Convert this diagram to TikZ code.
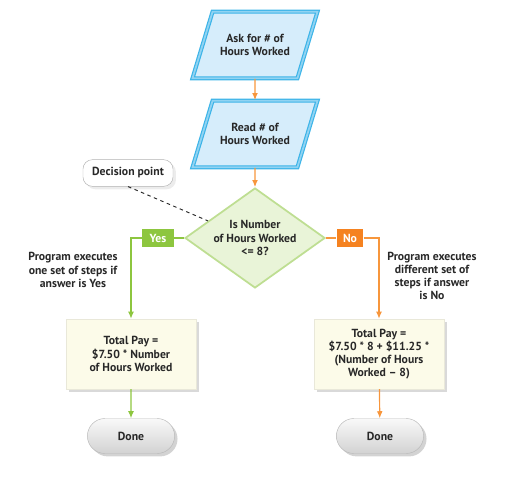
\documentclass[tikz,border=0pt]{standalone}
\usepackage{fontspec}
\setmainfont{PT Sans}
\usetikzlibrary{shapes.geometric,shapes.misc,shadows,arrows.meta}
\definecolor{ioblue}{RGB}{60,180,232}
\definecolor{iofill}{RGB}{214,237,251}
\definecolor{yesgreen}{RGB}{141,198,63}
\definecolor{decgreen}{RGB}{190,222,146}
\definecolor{decfill}{RGB}{233,244,216}
\definecolor{noorange}{RGB}{245,130,32}
\definecolor{arrorange}{RGB}{247,150,60}
\definecolor{payfill}{RGB}{252,251,233}
\definecolor{txtgray}{RGB}{40,40,40}

\begin{document}
\begin{tikzpicture}[
    x=0.03cm, y=-0.03cm,
    font=\fontsize{10}{11.2}\selectfont\bfseries, text=txtgray,
    io/.style={trapezium, trapezium left angle=50, trapezium right angle=130,
               trapezium stretches body, draw=ioblue, line width=1pt,
               double=ioblue!45!iofill, double distance=1.5pt,
               fill=iofill, minimum width=3.75cm, minimum height=2.0cm,
               align=center, inner sep=1pt},
    decision/.style={diamond, aspect=1.4, draw=decgreen, line width=1.5pt,
               fill=decfill, minimum width=4.2cm, minimum height=3cm,
               align=center, inner sep=0pt},
    paybox/.style={rectangle, draw=payfill!85!gray, fill=payfill,
               minimum width=3.9cm, minimum height=2.1cm, align=center,
               drop shadow={opacity=0.3}},
    donebox/.style={rounded rectangle, draw=gray!55, top color=gray!5,
               bottom color=gray!35, minimum width=2.85cm,
               minimum height=1.05cm, drop shadow={opacity=0.35}},
    tag/.style={rectangle, text=white, inner sep=2pt, minimum height=0.55cm},
    note/.style={align=center},
    oarrow/.style={-{Latex[length=6pt,width=5pt]}, draw=arrorange, line width=1pt},
    garrow/.style={-{Latex[length=6pt,width=5pt]}, draw=yesgreen, line width=1pt}
]
\useasboundingbox (0,0) rectangle (529,477);

% Input
\node[io] (ask) at (255,45) {Ask for \# of\\Hours Worked};
\node[io] (read) at (255,134) {Read \# of\\Hours Worked};
\draw[oarrow] (ask) -- (read);

% Decision
\node[decision] (dec) at (255,238) {Is Number\\of Hours Worked\\<= 8?};
\draw[oarrow] (read) -- (dec);
\node[rectangle, rounded corners=8pt, draw=gray!60, fill=white,
      minimum width=2.7cm, minimum height=0.8cm,
      drop shadow={opacity=0.15}] (callout) at (128,173) {Decision point};
\draw[dashed, thick, txtgray] (callout.south) -- (dec.160);

% Yes branch
\node[tag, fill=yesgreen, minimum width=0.95cm] (yes) at (158,238) {Yes};
\node[paybox] (ltot) at (131,354) {Total Pay =\\\$7.50 * Number\\of Hours Worked};
\node[donebox] (ldone) at (131,436) {Done};
\draw[yesgreen, line width=1pt] (dec.west) -- (yes.east);
\draw[garrow] (yes.west) -| (ltot.north);
\draw[garrow] (ltot) -- (ldone);
\node[note] (lnote) at (73,270) {Program executes\\one set of steps if\\answer is Yes};

% No branch
\node[tag, fill=noorange, minimum width=0.8cm] (no) at (350,238) {No};
\node[paybox] (rtot) at (379,354) {Total Pay =\\\$7.50 * 8 + \$11.25 *\\(Number of Hours\\Worked -- 8)};
\node[donebox] (rdone) at (380,436) {Done};
\draw[arrorange, line width=1pt] (dec.east) -- (no.west);
\draw[oarrow] (no.east) -| (rtot.north);
\draw[oarrow] (rtot) -- (rdone);
\node[note] (rnote) at (432,276) {Program executes\\different set of\\steps if answer\\is No};
\end{tikzpicture}
\end{document}
